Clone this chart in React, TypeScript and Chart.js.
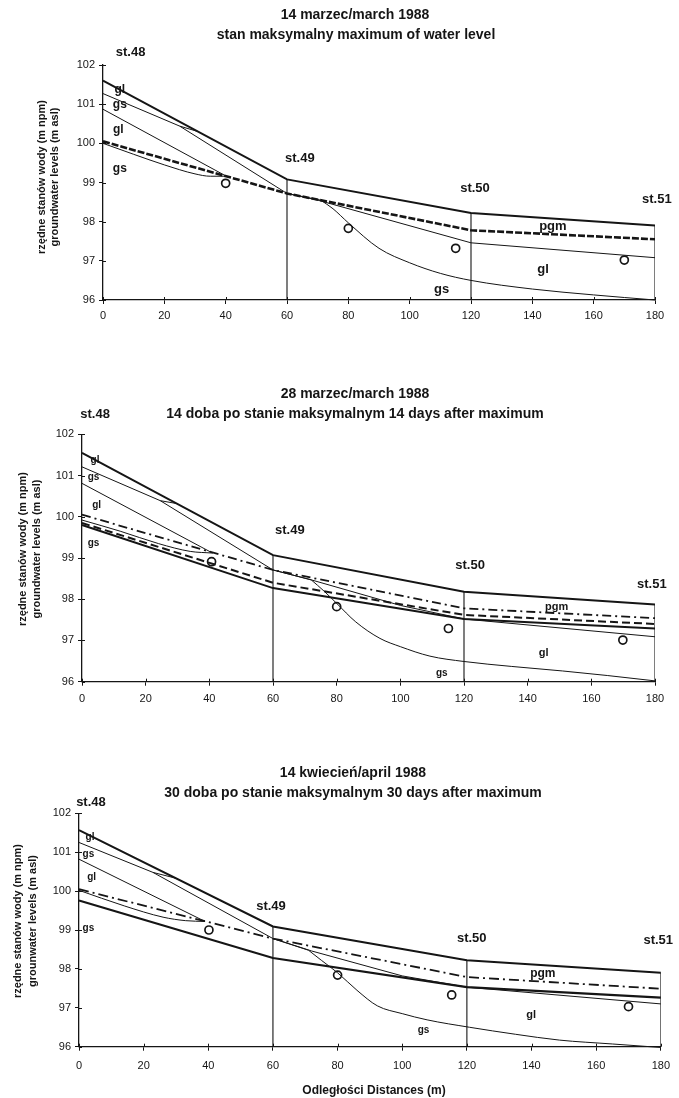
import React, { useEffect, useRef } from "react";
import { Chart, registerables } from "chart.js";
Chart.register(...registerables);

const FONT = '"Liberation Sans", Arial, sans-serif';
const INK = "#151515";

// distances of the wells st.48 .. st.51 (m)
const stationX = [0, 60, 120, 180];
const stationNames = ["st.48", "st.49", "st.50", "st.51"];
const distanceRange = [0, 180];
const levelRange = [96, 102];

// ---------- chart 1 : 14 marzec/march 1988 ----------
const c1Surface = [101.6, 99.08, 98.22, 97.9];
const c1Water = [100.05, 98.72, 97.78, 97.55];
const c1GsUpperX = [0, 25, 60, 71];
const c1GsUpperY = [101.27, 100.44, 98.72, 98.55];
const c1LinkX = [25, 31];
const c1LinkY = [100.44, 100.3];
const c1GsCurveX = [71, 75, 80, 90, 100, 110, 120, 140, 160, 180];
const c1GsCurveY = [98.55, 98.33, 97.97, 97.32, 96.95, 96.68, 96.5, 96.28, 96.13, 96.0];
const c1GlUpperX = [0, 40];
const c1GlUpperY = [100.87, 99.17];
const c1GsLowerX = [0, 10, 20, 30, 35, 40];
const c1GsLowerY = [100.0, 99.72, 99.45, 99.22, 99.16, 99.16];
const c1GlLowerX = [60, 70, 120, 180];
const c1GlLowerY = [98.72, 98.55, 97.46, 97.08];
const c1WellX = [40, 80, 115, 170];
const c1WellY = [98.98, 97.83, 97.32, 97.02];

// ---------- chart 2 : 28 marzec/march 1988 ----------
const c2Surface = [101.55, 99.07, 98.18, 97.87];
const c2DashDot = [100.05, 98.71, 97.78, 97.54];
const c2Dashed = [99.85, 98.4, 97.62, 97.4];
const c2Solid = [99.8, 98.27, 97.52, 97.29];
const c2GsUpperX = [0, 24.6, 60, 72];
const c2GsUpperY = [101.21, 100.39, 98.71, 98.47];
const c2LinkX = [24.6, 29.8];
const c2LinkY = [100.39, 100.32];
const c2GsCurveX = [72, 76, 80, 86, 93.6, 100, 109.3, 120, 135, 151, 165, 180];
const c2GsCurveY = [98.47, 98.2, 97.9, 97.45, 97.05, 96.85, 96.62, 96.49, 96.37, 96.26, 96.15, 96.02];
const c2GlUpperX = [0, 41];
const c2GlUpperY = [100.81, 99.12];
const c2GsLowerX = [0, 12, 24, 34, 41];
const c2GsLowerY = [99.92, 99.65, 99.35, 99.16, 99.12];
const c2GlLowerX = [60, 72, 100, 120, 180];
const c2GlLowerY = [98.71, 98.47, 97.85, 97.52, 97.09];
const c2WellX = [40.7, 80, 115.1, 169.9];
const c2WellY = [98.91, 97.82, 97.29, 97.01];

// ---------- chart 3 : 14 kwiecień/april 1988 ----------
const c3Surface = [101.57, 99.09, 98.22, 97.9];
const c3DashDot = [100.05, 98.78, 97.79, 97.49];
const c3Solid = [99.76, 98.28, 97.53, 97.26];
const c3GsUpperX = [0, 22.9, 60, 71];
const c3GsUpperY = [101.25, 100.48, 98.78, 98.48];
const c3LinkX = [22.9, 30];
const c3LinkY = [100.48, 100.33];
const c3GsCurveX = [71, 75, 80, 86, 92.3, 100, 107.7, 120.8, 135, 148.6, 165, 180];
const c3GsCurveY = [98.48, 98.22, 97.9, 97.45, 97.05, 96.85, 96.69, 96.5, 96.32, 96.17, 96.07, 95.98];
const c3GlUpperX = [0, 39];
const c3GlUpperY = [100.82, 99.22];
const c3GsLowerX = [0, 14, 26, 33, 39];
const c3GsLowerY = [100.02, 99.62, 99.33, 99.24, 99.22];
const c3GlLowerX = [60, 72, 100, 120, 180];
const c3GlLowerY = [98.78, 98.46, 97.82, 97.53, 97.1];
const c3WellX = [40.2, 80, 115.3, 170];
const c3WellY = [99.0, 97.84, 97.33, 97.03];

const yTitle = ["rzędne stanów wody (m npm)", "groundwater levels (m asl)"];
const yTitle3 = ["rzędne stanów wody (m npm)", "grounwater levels (m asl)"];

type Series = { xs: number[]; ys: number[]; w: number; dash?: number[]; curve?: boolean };
type Txt = { t: string; x?: number; y?: number; px?: number; py?: number; size: number; bold?: boolean; rot?: boolean; align?: CanvasTextAlign };
type Spec = {
  top: number; h: number; left: number; right: number; areaTop: number; areaBottom: number;
  xPad: number; surface: number[]; series: Series[]; wellX: number[]; wellY: number[]; texts: Txt[];
};

const thin = (xs: number[], ys: number[], curve = false): Series => ({ xs, ys, w: 1, curve });

const spec1: Spec = {
  top: 0, h: 335, left: 103, right: 655, areaTop: 65, areaBottom: 300, xPad: 5,
  surface: c1Surface,
  series: [
    { xs: stationX, ys: c1Surface, w: 2 },
    { xs: stationX, ys: c1Water, w: 2.6, dash: [7, 2] },
    thin(c1GsUpperX, c1GsUpperY),
    thin(c1LinkX, c1LinkY),
    thin(c1GsCurveX, c1GsCurveY, true),
    thin(c1GlUpperX, c1GlUpperY),
    thin(c1GsLowerX, c1GsLowerY, true),
    thin(c1GlLowerX, c1GlLowerY),
  ],
  wellX: c1WellX, wellY: c1WellY,
  texts: [
    { t: "14 marzec/march 1988", px: 355, py: 15, size: 14 },
    { t: "stan maksymalny maximum of water level", px: 356, py: 35, size: 14 },
    { t: yTitle[0], px: 42, py: 177, size: 11, rot: true },
    { t: yTitle[1], px: 55, py: 177, size: 11, rot: true },
    { t: stationNames[0], x: 9, y: 102.33, size: 13 },
    { t: stationNames[1], x: 64.2, y: 99.62, size: 13 },
    { t: stationNames[2], x: 121.3, y: 98.85, size: 13 },
    { t: stationNames[3], x: 180.6, y: 98.57, size: 13 },
    { t: "gl", x: 5.5, y: 101.36, size: 12 },
    { t: "gs", x: 5.5, y: 100.98, size: 12 },
    { t: "gl", x: 5, y: 100.34, size: 12 },
    { t: "gs", x: 5.5, y: 99.36, size: 12 },
    { t: "pgm", x: 146.7, y: 97.89, size: 13 },
    { t: "gl", x: 143.5, y: 96.77, size: 13 },
    { t: "gs", x: 110.4, y: 96.26, size: 13 },
  ],
};

const spec2: Spec = {
  top: 335, h: 390, left: 82, right: 655, areaTop: 99.3, areaBottom: 346.7, xPad: 7,
  surface: c2Surface,
  series: [
    { xs: stationX, ys: c2Surface, w: 2 },
    { xs: stationX, ys: c2DashDot, w: 1.8, dash: [9, 4, 2, 4] },
    { xs: stationX, ys: c2Dashed, w: 2, dash: [8, 4] },
    { xs: stationX, ys: c2Solid, w: 2 },
    thin(c2GsUpperX, c2GsUpperY),
    thin(c2LinkX, c2LinkY),
    thin(c2GsCurveX, c2GsCurveY, true),
    thin(c2GlUpperX, c2GlUpperY),
    thin(c2GsLowerX, c2GsLowerY, true),
    thin(c2GlLowerX, c2GlLowerY),
  ],
  wellX: c2WellX, wellY: c2WellY,
  texts: [
    { t: "28 marzec/march 1988", px: 355, py: 59, size: 14 },
    { t: "14 doba po stanie maksymalnym 14 days after maximum", px: 355, py: 79, size: 14 },
    { t: yTitle[0], px: 23, py: 214, size: 11, rot: true },
    { t: yTitle[1], px: 37, py: 214, size: 11, rot: true },
    { t: stationNames[0], x: 4.1, y: 102.49, size: 13 },
    { t: stationNames[1], x: 65.3, y: 99.68, size: 13 },
    { t: stationNames[2], x: 121.9, y: 98.83, size: 13 },
    { t: stationNames[3], x: 179, y: 98.35, size: 13 },
    { t: "gl", x: 4.1, y: 101.38, size: 10 },
    { t: "gs", x: 3.6, y: 100.97, size: 10 },
    { t: "gl", x: 4.6, y: 100.29, size: 10 },
    { t: "gs", x: 3.6, y: 99.36, size: 10 },
    { t: "pgm", x: 149.1, y: 97.82, size: 11 },
    { t: "gl", x: 145, y: 96.69, size: 11 },
    { t: "gs", x: 113, y: 96.2, size: 10 },
  ],
};

const spec3: Spec = {
  top: 725, h: 373, left: 79, right: 666, areaTop: 88.3, areaBottom: 321.7, xPad: 9,
  surface: c3Surface,
  series: [
    { xs: stationX, ys: c3Surface, w: 2 },
    { xs: stationX, ys: c3DashDot, w: 1.8, dash: [10, 4, 2, 4] },
    { xs: stationX, ys: c3Solid, w: 2.2 },
    thin(c3GsUpperX, c3GsUpperY),
    thin(c3LinkX, c3LinkY),
    thin(c3GsCurveX, c3GsCurveY, true),
    thin(c3GlUpperX, c3GlUpperY),
    thin(c3GsLowerX, c3GsLowerY, true),
    thin(c3GlLowerX, c3GlLowerY),
  ],
  wellX: c3WellX, wellY: c3WellY,
  texts: [
    { t: "14 kwiecień/april 1988", px: 353, py: 48, size: 14 },
    { t: "30 doba po stanie maksymalnym 30 days after maximum", px: 353, py: 68, size: 14 },
    { t: yTitle3[0], px: 18, py: 196, size: 11, rot: true },
    { t: yTitle3[1], px: 33, py: 196, size: 11, rot: true },
    { t: stationNames[0], x: 3.7, y: 102.28, size: 13 },
    { t: stationNames[1], x: 59.4, y: 99.6, size: 13 },
    { t: stationNames[2], x: 121.5, y: 98.78, size: 13 },
    { t: stationNames[3], x: 179.2, y: 98.74, size: 13 },
    { t: "gl", x: 3.4, y: 101.39, size: 10 },
    { t: "gs", x: 2.9, y: 100.95, size: 10 },
    { t: "gl", x: 3.9, y: 100.36, size: 10 },
    { t: "gs", x: 2.9, y: 99.04, size: 10 },
    { t: "pgm", x: 143.5, y: 97.87, size: 12 },
    { t: "gl", x: 139.9, y: 96.81, size: 11 },
    { t: "gs", x: 106.6, y: 96.43, size: 10 },
    { t: "Odległości Distances (m)", px: 374, py: 366, size: 12 },
  ],
};

function textPlugin(texts: Txt[]) {
  return {
    id: "texts",
    afterDraw(chart: any) {
      const { ctx } = chart;
      const xs = chart.scales.x;
      const ys = chart.scales.y;
      ctx.save();
      // short inner tick marks so the ticks cross the axes, as in the original
      ctx.strokeStyle = INK;
      ctx.lineWidth = 1;
      ctx.beginPath();
      xs.ticks.forEach((tk: any) => {
        const p = Math.round(xs.getPixelForValue(tk.value)) + 0.5;
        ctx.moveTo(p, xs.top);
        ctx.lineTo(p, xs.top - 3);
      });
      ys.ticks.forEach((tk: any) => {
        const p = Math.round(ys.getPixelForValue(tk.value)) + 0.5;
        ctx.moveTo(ys.right, p);
        ctx.lineTo(ys.right + 3, p);
      });
      ctx.stroke();

      ctx.fillStyle = INK;
      ctx.textBaseline = "middle";
      for (const tx of texts) {
        ctx.font = `${tx.bold === false ? "normal" : "bold"} ${tx.size}px ${FONT}`;
        ctx.textAlign = tx.align || "center";
        const px = tx.px !== undefined ? tx.px : xs.getPixelForValue(tx.x);
        const py = tx.py !== undefined ? tx.py : ys.getPixelForValue(tx.y);
        if (tx.rot) {
          ctx.save();
          ctx.translate(px, py);
          ctx.rotate(-Math.PI / 2);
          ctx.fillText(tx.t, 0, 0);
          ctx.restore();
        } else {
          ctx.fillText(tx.t, px, py);
        }
      }
      ctx.restore();
    },
  };
}

function buildConfig(s: Spec): any {
  const datasets: any[] = s.series.map((sr) => ({
    type: "line",
    data: sr.xs.map((x, i) => ({ x, y: sr.ys[i] })),
    borderColor: INK,
    borderWidth: sr.w,
    borderDash: sr.dash || [],
    pointRadius: 0,
    tension: 0,
    cubicInterpolationMode: sr.curve ? "monotone" : "default",
    fill: false,
    clip: 6,
  }));
  // vertical lines at wells st.49, st.50, st.51 – from axis up to the surface line
  stationX.slice(1).forEach((sx, i) => {
    datasets.push({
      type: "line",
      data: [
        { x: sx, y: levelRange[0] },
        { x: sx, y: s.surface[i + 1] },
      ],
      borderColor: INK,
      borderWidth: 1.1,
      pointRadius: 0,
      fill: false,
    });
  });
  datasets.push({
    type: "scatter",
    data: s.wellX.map((x, i) => ({ x, y: s.wellY[i] })),
    pointStyle: "circle",
    pointRadius: 4,
    pointBorderWidth: 1.7,
    pointBorderColor: INK,
    pointBackgroundColor: "#ffffff",
    showLine: false,
  });
  const tickFont = { size: 11, family: FONT };
  return {
    type: "line",
    data: { datasets },
    options: {
      animation: false,
      responsive: false,
      devicePixelRatio: 1,
      layout: { padding: { left: 0, right: 679 - s.right, top: s.areaTop, bottom: 0 } },
      plugins: { legend: { display: false }, tooltip: { enabled: false }, title: { display: false } },
      scales: {
        x: {
          type: "linear",
          min: distanceRange[0],
          max: distanceRange[1],
          ticks: { stepSize: 20, font: tickFont, color: INK, padding: s.xPad, maxRotation: 0, autoSkip: false },
          grid: { display: true, drawOnChartArea: false, tickLength: 4, color: INK },
          border: { display: true, color: INK, width: 1.3 },
          afterFit: (sc: any) => {
            sc.height = s.h - s.areaBottom;
          },
        },
        y: {
          type: "linear",
          min: levelRange[0],
          max: levelRange[1],
          ticks: { stepSize: 1, font: tickFont, color: INK, padding: 4 },
          grid: { display: true, drawOnChartArea: false, tickLength: 4, color: INK },
          border: { display: true, color: INK, width: 1.3 },
          afterFit: (sc: any) => {
            sc.width = s.left;
          },
        },
      },
    },
    plugins: [textPlugin(s.texts)],
  };
}

function GwChart({ spec }: { spec: Spec }) {
  const ref = useRef<HTMLCanvasElement>(null);
  useEffect(() => {
    if (!ref.current) return;
    const chart = new Chart(ref.current, buildConfig(spec));
    return () => chart.destroy();
  }, [spec]);
  return (
    <canvas
      ref={ref}
      width={679}
      height={spec.h}
      style={{ position: "absolute", left: 0, top: spec.top, width: 679, height: spec.h, display: "block" }}
    />
  );
}

export default function App() {
  return (
    <div style={{ position: "absolute", left: 0, top: 0, width: 679, height: 1098, background: "#ffffff", overflow: "hidden" }}>
      <GwChart spec={spec1} />
      <GwChart spec={spec2} />
      <GwChart spec={spec3} />
    </div>
  );
}
